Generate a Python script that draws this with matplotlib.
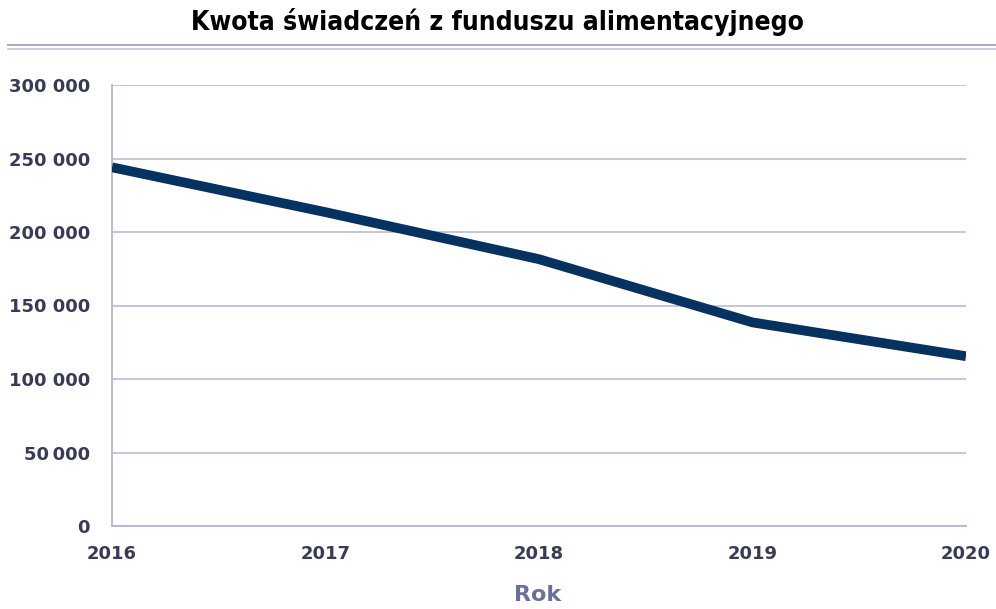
import matplotlib
matplotlib.use("Agg")
import matplotlib.pyplot as plt
from matplotlib.lines import Line2D
from matplotlib.ticker import FixedLocator, FixedFormatter

years = [2016, 2017, 2018, 2019, 2020]
amounts = [244000, 213500, 181500, 138500, 115500]
y_ticks = [0, 50000, 100000, 150000, 200000, 250000, 300000]
y_tick_labels = ["0", "50\u2009000", "100 000", "150 000", "200 000", "250 000", "300 000"]

title = "Kwota świadczeń z funduszu alimentacyjnego"
x_label = "Rok"

line_color = "#05325f"
grid_color = "#b4b4d4"
tick_color = "#383b56"
label_color = "#6b6f9c"

plt.rcParams["font.family"] = ["DejaVu Sans"]

fig = plt.figure(figsize=(9.96, 6.09), dpi=100)
ax = fig.add_axes([112 / 996, 1 - 526 / 609, (966 - 112) / 996, (526 - 85) / 609])

ax.plot(years, amounts, color=line_color, linewidth=7,
        solid_joinstyle="round", solid_capstyle="butt", zorder=3)

ax.set_xlim(years[0], years[-1])
ax.set_ylim(y_ticks[0], y_ticks[-1])
ax.xaxis.set_major_locator(FixedLocator(years))
ax.yaxis.set_major_locator(FixedLocator(y_ticks))
ax.yaxis.set_major_formatter(FixedFormatter(y_tick_labels))

ax.grid(axis="y", color=grid_color, linewidth=1.1, zorder=1)
ax.grid(axis="x", visible=False)
for side in ("top", "right"):
    ax.spines[side].set_visible(False)
for side in ("left", "bottom"):
    ax.spines[side].set_color(grid_color)
    ax.spines[side].set_linewidth(1.3)

ax.tick_params(axis="both", length=0, labelcolor=tick_color, labelsize=13)
ax.tick_params(axis="y", pad=16)
ax.tick_params(axis="x", pad=14)
for lab in ax.get_xticklabels() + ax.get_yticklabels():
    lab.set_fontweight("bold")

fig.text(538 / 996, 1 - 595 / 609, x_label, ha="center", va="center",
         fontsize=16, fontweight="bold", color=label_color)

fig.text(497 / 996, 1 - 22 / 609, title, ha="center", va="center",
         fontsize=19, fontweight="bold", fontstretch="condensed", color="black",
         family=["DejaVu Sans"])

# double rule under the title
fig.add_artist(Line2D([8 / 996, 1.0], [1 - 45 / 609] * 2, color="#a9a9cf", linewidth=1.4))
fig.add_artist(Line2D([8 / 996, 1.0], [1 - 48.5 / 609] * 2, color="#c4c4de", linewidth=1.2))

fig.savefig("out.png", dpi=100)
